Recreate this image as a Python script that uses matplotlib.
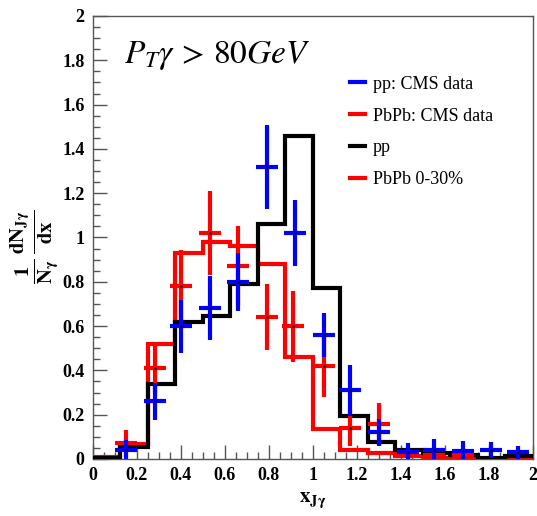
import matplotlib
matplotlib.use('Agg')
import matplotlib.pyplot as plt
from matplotlib.lines import Line2D
from matplotlib.ticker import MultipleLocator

plt.rcParams['font.family'] = ['Liberation Serif', 'DejaVu Serif']
plt.rcParams['mathtext.fontset'] = 'stix'

# histogram bins (x_Jgamma)
edges = [0.0, 0.125, 0.25, 0.375, 0.5, 0.625, 0.75, 0.875, 1.0,
         1.125, 1.25, 1.375, 1.5, 1.625, 1.75, 1.875, 2.0]
pp_model = [0.005, 0.054, 0.34, 0.62, 0.645, 0.79, 1.06, 1.46, 0.77,
            0.195, 0.077, 0.04, 0.027, 0.018, 0.005, 0.014]
pbpb_model = [0.01, 0.068, 0.52, 0.93, 0.98, 0.96, 0.88, 0.46, 0.135,
              0.04, 0.027, 0.013, 0.005, 0.005, 0.0, 0.0]

# CMS data points
pp_x = [0.15, 0.28, 0.40, 0.53, 0.66, 0.79, 0.92, 1.05, 1.17, 1.30,
        1.43, 1.55, 1.68, 1.81, 1.93]
pp_y = [0.04, 0.26, 0.60, 0.68, 0.80, 1.32, 1.02, 0.56, 0.31, 0.12,
        0.03, 0.04, 0.036, 0.04, 0.03]
pp_err = [0.045, 0.085, 0.12, 0.145, 0.13, 0.19, 0.15, 0.10, 0.115, 0.06,
          0.04, 0.05, 0.045, 0.035, 0.03]

pbpb_x = [0.15, 0.28, 0.40, 0.53, 0.66, 0.79, 0.91, 1.05, 1.17, 1.30,
          1.55, 1.68]
pbpb_y = [0.07, 0.41, 0.78, 1.02, 0.87, 0.64, 0.60, 0.42, 0.14, 0.16,
          0.02, 0.02]
pbpb_err = [0.06, 0.11, 0.165, 0.19, 0.18, 0.15, 0.16, 0.14, 0.08, 0.095,
            0.02, 0.02]
xerr = 0.05

fig = plt.figure(figsize=(5.37, 5.16), dpi=100)
ax = fig.add_axes([0.173, 0.1105, 0.8195, 0.8585])

ax.stairs(pbpb_model, edges, color='red', lw=3, baseline=None, zorder=2)
ax.stairs(pp_model, edges, color='black', lw=3, baseline=None, zorder=3)
ax.errorbar(pbpb_x, pbpb_y, yerr=pbpb_err, xerr=xerr, fmt='.', ms=1.5,
            mfc='black', mec='black', ecolor='red', elinewidth=3,
            capsize=0, zorder=4)
ax.errorbar(pp_x, pp_y, yerr=pp_err, xerr=xerr, fmt='.', ms=1.5,
            mfc='black', mec='black', ecolor='blue', elinewidth=3,
            capsize=0, zorder=5)

ax.set_xlim(0, 2)
ax.set_ylim(0, 2)
ax.xaxis.set_major_locator(MultipleLocator(0.2))
ax.xaxis.set_minor_locator(MultipleLocator(0.05))
ax.yaxis.set_major_locator(MultipleLocator(0.2))
ax.yaxis.set_minor_locator(MultipleLocator(0.05))
ax.tick_params(which='both', direction='in', top=False, right=False,
               color='#555555', width=1)
ax.tick_params(which='major', length=10, pad=6)
ax.tick_params(which='minor', length=5)
ax.xaxis.set_major_formatter(plt.FuncFormatter(lambda v, p: f'{v:g}'))
ax.yaxis.set_major_formatter(plt.FuncFormatter(lambda v, p: f'{v:g}'))
for lab in ax.get_xticklabels() + ax.get_yticklabels():
    lab.set_fontweight('bold')
    lab.set_fontsize(13)
for sp in ax.spines.values():
    sp.set_color('#555555')
    sp.set_linewidth(1)

ax.set_xlabel(r'$\mathbf{x_{J\gamma}}$', fontsize=15, labelpad=5)
ax.text(-0.133, 0.48,
        r'$\mathbf{\frac{1}{N_{\gamma}}\,\frac{dN_{J\gamma}}{dx}}$',
        rotation=90, fontsize=21, transform=ax.transAxes,
        ha='center', va='center')

ax.text(0.07, 0.895, r'$P_T\gamma\,>\,80GeV$', fontsize=24,
        transform=ax.transAxes, ha='left', va='baseline')

handles = [Line2D([], [], color='blue', lw=3),
           Line2D([], [], color='red', lw=3),
           Line2D([], [], color='black', lw=3),
           Line2D([], [], color='red', lw=3)]
labels = ['pp: CMS data', 'PbPb: CMS data', 'pp', 'PbPb 0-30%']
ax.legend(handles, labels, loc='upper left', bbox_to_anchor=(0.585, 0.865),
          frameon=False, fontsize=13, handlelength=0.8,
          handletextpad=0.45, labelspacing=0.82, borderpad=0, borderaxespad=0)

fig.savefig('out.png', dpi=100)
